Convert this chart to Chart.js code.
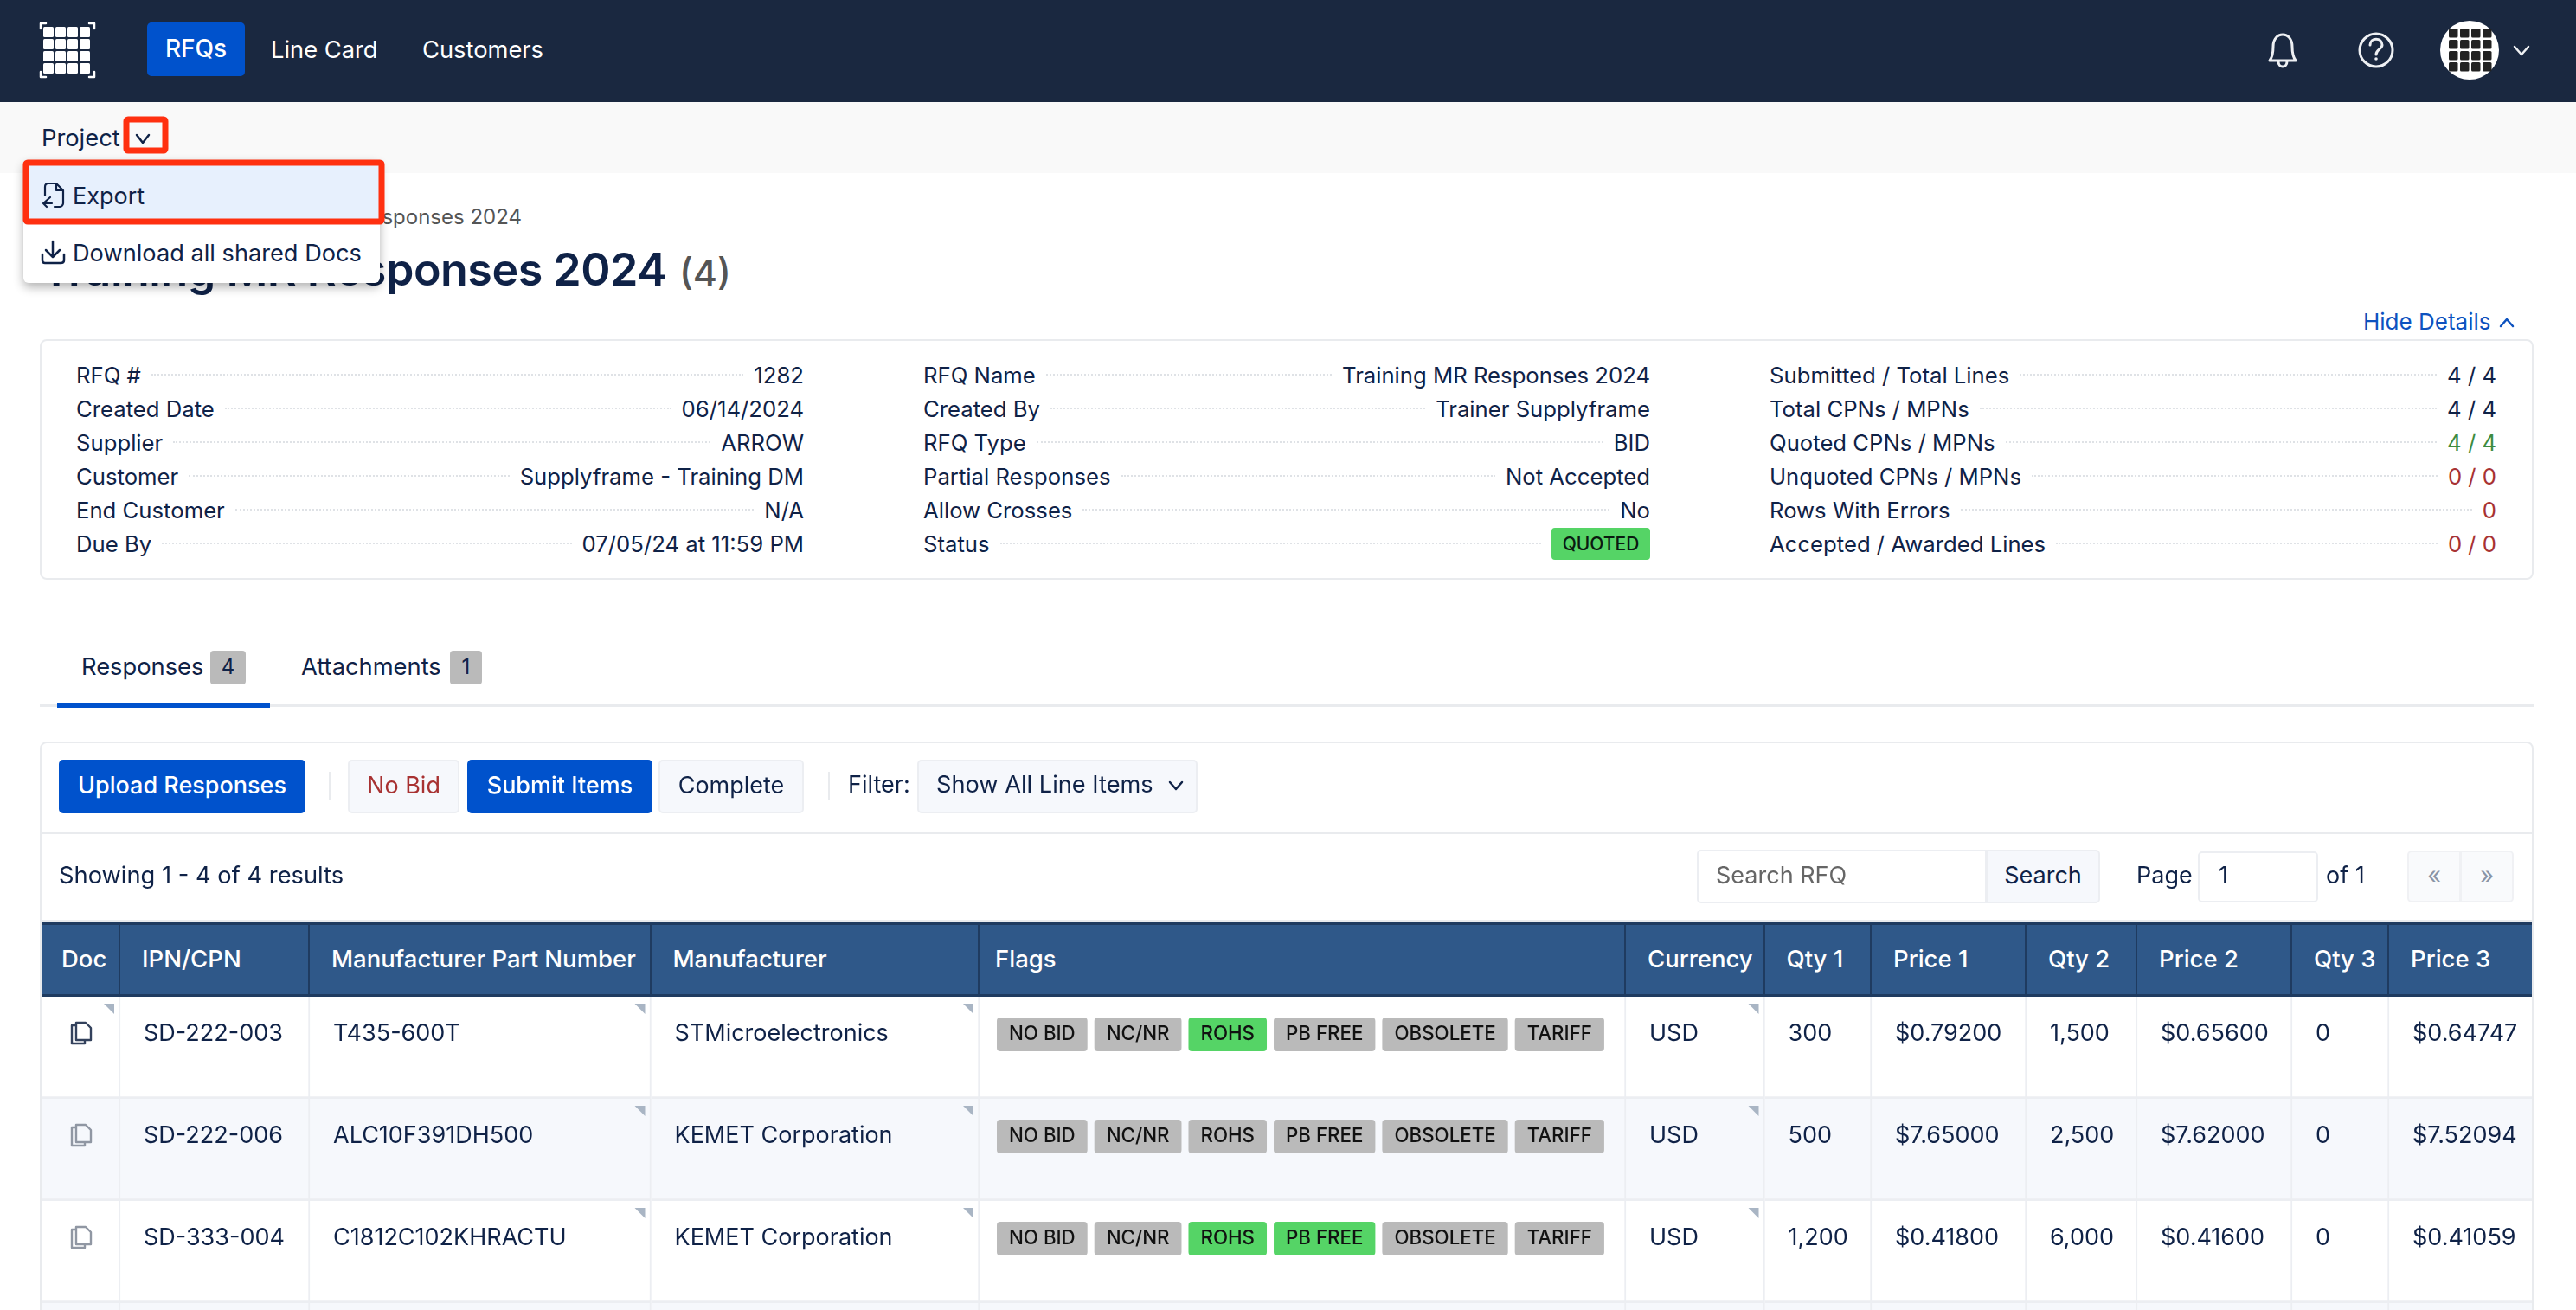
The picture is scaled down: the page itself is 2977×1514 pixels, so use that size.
<!DOCTYPE html>
<html>
<head>
<meta charset="utf-8">
<title>Training MR Responses 2024</title>
<script src="https://cdn.jsdelivr.net/npm/chart.js@4/dist/chart.umd.js"></script>
<style>
  html, body { margin: 0; width: 2977px; height: 1514px; overflow: hidden; background: #fff; }
  body { position: relative; font-family: Inter, "Noto Sans", sans-serif; color: #0f2247; font-size: 26px; }
  .t { position: absolute; line-height: 1; white-space: nowrap; transform: translateY(calc(-50% - 1.5px)); }
  .b { position: absolute; box-sizing: border-box; display: flex; align-items: center; justify-content: center; white-space: nowrap; border-radius: 5px; padding-bottom: 3px; }
  .row { position: absolute; display: flex; align-items: center; height: 30px; white-space: nowrap; transform: translateY(-50%); font-size: 25.7px; }
  .row i { flex: 1; border-top: 2px dotted #dfe2e6; margin: 0 12px; }
  #head { position: absolute; left: 48px; top: 1066px; width: 2878px; height: 86px; box-sizing: border-box; display: flex; background: #2f5889; border-top: 3px solid #1f3b60; border-bottom: 3px solid #1f3b60; color: #fff; font-weight: 500; font-size: 27.5px; }
  #head div { box-sizing: border-box; display: flex; align-items: center; padding-left: 25px; padding-bottom: 3px; border-right: 2px solid #1f3b60; white-space: nowrap; }
  #head div:last-child { border-right: 0; }
  #table { position: absolute; left: 48px; top: 1152px; }
  svg { position: absolute; left: 0; top: 0; z-index: 10; pointer-events: none; }
</style>
</head>
<body>
<canvas id="table" width="2878" height="472"></canvas>
<div id="head"></div>
<svg width="2977" height="1514" fill="none" stroke-linecap="round" stroke-linejoin="round">
  <!-- logo -->
  <g fill="#fff" id="logo"></g>
  <path d="M53 27H47V33M103 27H109V33M53 89H47V83M103 89H109V83" stroke="#fff" stroke-width="2.5"/>
  <!-- bell -->
  <path d="M2623 70c3-4 4-8 4-16 0-9 5-14 11-14s11 5 11 14c0 8 1 12 4 16zM2633 71c0 8 10 8 10 0" stroke="#eef0f3" stroke-width="3"/>
  <!-- help -->
  <circle cx="2746" cy="58" r="19" stroke="#eef0f3" stroke-width="3"/>
  <path d="M2739 52c0-9 14-9 14 0 0 5-7 5-7 11" stroke="#eef0f3" stroke-width="3"/>
  <circle cx="2746" cy="68" r="1.8" fill="#eef0f3"/>
  <!-- avatar -->
  <ellipse cx="2854" cy="58" rx="34" ry="34" fill="#fff"/>
  <g fill="#222" id="avatar"></g>
  <path d="M2906 54L2914 63L2922 54" stroke="#eef0f3" stroke-width="2.5"/>
  <!-- project chevron -->
  <path d="M158 156L165 165L172 156" stroke="#0f2247" stroke-width="2.5"/>
  <!-- red highlights -->
  <rect x="146" y="138" width="45" height="36" rx="2" stroke="#ff3010" stroke-width="7"/>
  <rect x="30" y="188" width="411" height="68" rx="2" stroke="#ff3010" stroke-width="7"/>
  <!-- export icon -->
  <path d="M52 226V216C52 213 54 212 56 212H65L73 220V235C73 237 71 239 69 239H63M65 212V220H73M58 228L50 235H60M50 235L54 239" stroke="#0f2247" stroke-width="2.2"/>
  <!-- download icon -->
  <path d="M61 279V296M53 289L61 297L69 289M49 294V301C49 303 50 304 52 304H70C72 304 74 303 74 301V294" stroke="#0f2247" stroke-width="2.5"/>
  <!-- hide details chevron -->
  <path d="M2890 377L2897 369L2904 377" stroke="#0d52bf" stroke-width="2.5"/>
  <!-- select chevron -->
  <path d="M1352 904L1359 912L1366 904" stroke="#0f2247" stroke-width="2.5"/>
</svg>
<script>
const navItems = ['RFQs', 'Line Card', 'Customers'];
const detailLabelsA = ['RFQ #', 'Created Date', 'Supplier', 'Customer', 'End Customer', 'Due By'];
const detailValuesA = ['1282', '06/14/2024', 'ARROW', 'Supplyframe - Training DM', 'N/A', '07/05/24 at 11:59 PM'];
const detailLabelsB = ['RFQ Name', 'Created By', 'RFQ Type', 'Partial Responses', 'Allow Crosses', 'Status'];
const detailValuesB = ['Training MR Responses 2024', 'Trainer Supplyframe', 'BID', 'Not Accepted', 'No', 'QUOTED'];
const detailLabelsC = ['Submitted / Total Lines', 'Total CPNs / MPNs', 'Quoted CPNs / MPNs', 'Unquoted CPNs / MPNs', 'Rows With Errors', 'Accepted / Awarded Lines'];
const detailValuesC = ['4 / 4', '4 / 4', '4 / 4', '0 / 0', '0', '0 / 0'];

const columns = ['Doc', 'IPN/CPN', 'Manufacturer Part Number', 'Manufacturer', 'Flags', 'Currency', 'Qty 1', 'Price 1', 'Qty 2', 'Price 2', 'Qty 3', 'Price 3'];
const ipnCpn = ['SD-222-003', 'SD-222-006', 'SD-333-004', ''];
const partNumbers = ['T435-600T', 'ALC10F391DH500', 'C1812C102KHRACTU', ''];
const manufacturers = ['STMicroelectronics', 'KEMET Corporation', 'KEMET Corporation', ''];
const flagNames = ['NO BID', 'NC/NR', 'ROHS', 'PB FREE', 'OBSOLETE', 'TARIFF'];
const flagsOn = [['ROHS'], [], ['ROHS', 'PB FREE'], []];
const currencies = ['USD', 'USD', 'USD', ''];
const qty1 = ['300', '500', '1,200', ''];
const price1 = ['$0.79200', '$7.65000', '$0.41800', ''];
const qty2 = ['1,500', '2,500', '6,000', ''];
const price2 = ['$0.65600', '$7.62000', '$0.41600', ''];
const qty3 = ['0', '0', '0', ''];
const price3 = ['$0.64747', '$7.52094', '$0.41059', ''];

// table layout, not data: the stacked bars below are the table cells
const columnWidths = [91, 219, 394.5, 379.5, 747, 160.5, 123.5, 179, 128, 179, 112, 165];
const cellText = [null, ipnCpn, partNumbers, manufacturers, null, currencies, qty1, price1, qty2, price2, qty3, price3];
const cornerMarks = [[0], [], [0, 1, 2, 3], [0, 1, 2, 3], [], [0, 1, 2, 3], [], [], [], [], [], []];

const NAVY = '#0f2247';
const BLUE = '#0052cc';
const GREEN = '#55d466';
const GREY = '#bababa';
const RED = '#a83232';

const text = (str, x, cy, style = {}) => {
  const el = document.createElement('div');
  el.className = 't';
  el.textContent = str;
  el.style.top = cy + 'px';
  if (style.right) {
    el.style.right = (2977 - x) + 'px';
  } else {
    el.style.left = x + 'px';
  }
  Object.assign(el.style, style.css || {});
  document.body.appendChild(el);
  return el;
};

const box = (x0, y0, x1, y1, css = {}, label = '') => {
  const el = document.createElement('div');
  el.className = 'b';
  el.textContent = label;
  el.style.left = x0 + 'px';
  el.style.top = y0 + 'px';
  el.style.width = (x1 - x0) + 'px';
  el.style.height = (y1 - y0) + 'px';
  Object.assign(el.style, css);
  document.body.appendChild(el);
  return el;
};

const renderChrome = () => {
  box(0, 0, 2977, 118, { background: '#1a2840', borderRadius: 0 });
  box(0, 118, 2977, 200, { background: '#f9f9f9', borderRadius: 0 });
  box(170, 26, 283, 88, { background: BLUE, color: '#fff', fontSize: '28px', fontWeight: 500 }, navItems[0]);
  text(navItems[1], 313, 59, { css: { color: '#fff', fontSize: '27.3px' } });
  text(navItems[2], 488, 59, { css: { color: '#fff', fontSize: '27.3px' } });
  text('Project', 48, 161, { css: { fontSize: '27.3px' } });

  // heading sits behind the dropdown
  text('Training MR Responses 2024', 603, 252, { right: true, css: { fontSize: '24px', color: '#555' } });
  text('Training MR Responses 2024', 48, 313, { css: { fontSize: '52px', fontWeight: 600, letterSpacing: '-0.5px' } });
  text('(4)', 785, 317, { css: { fontSize: '43px', fontWeight: 500, color: '#555' } });

  box(27, 185, 439, 327, { background: '#fff', boxShadow: '0 5px 12px rgba(0,0,0,.3)', borderRadius: '6px' });
  box(27, 185, 444, 259, { background: '#e7f0fd', borderRadius: '2px' });
  text('Export', 84, 228, { css: { fontSize: '27px' } });
  text('Download all shared Docs', 84, 294, { css: { fontSize: '27.2px' } });

  text('Hide Details', 2731, 373, { css: { fontSize: '26px', color: '#0d52bf' } });
};

const renderDetails = () => {
  box(46, 392, 2928, 670, { border: '2px solid #e9ebee', borderRadius: '8px' });
  const groups = [
    [detailLabelsA, detailValuesA, 88, 929],
    [detailLabelsB, detailValuesB, 1067, 1907],
    [detailLabelsC, detailValuesC, 2045, 2885]
  ];
  groups.forEach(([labels, values, x0, x1]) => {
    labels.forEach((label, i) => {
      const row = document.createElement('div');
      row.className = 'row';
      row.style.left = x0 + 'px';
      row.style.width = (x1 - x0) + 'px';
      row.style.top = (433 + i * 39) + 'px';
      const a = document.createElement('span');
      a.textContent = label;
      const leader = document.createElement('i');
      const b = document.createElement('span');
      b.textContent = values[i];
      if (label === 'Quoted CPNs / MPNs') b.style.color = '#3d8b40';
      if (['Unquoted CPNs / MPNs', 'Rows With Errors', 'Accepted / Awarded Lines'].includes(label)) b.style.color = RED;
      if (label === 'Status') {
        Object.assign(b.style, { background: GREEN, color: '#0b1a10', fontSize: '21px', fontWeight: 500, width: '114px', height: '37px', lineHeight: '38px', textAlign: 'center', borderRadius: '4px' });
      }
      row.append(a, leader, b);
      document.body.appendChild(row);
    });
  });
};

const renderTabs = () => {
  text('Responses', 94, 772, { css: { fontSize: '27.3px' } });
  box(243, 752, 284, 791, { background: GREY, borderRadius: '4px', fontSize: '24px' }, '4');
  text('Attachments', 348, 772, { css: { fontSize: '27.3px' } });
  box(520, 752, 557, 791, { background: GREY, borderRadius: '4px', fontSize: '24px' }, '1');
  box(46, 814, 2928, 816, { background: '#e9ebee', borderRadius: 0 });
  box(66, 812, 312, 818, { background: BLUE, borderRadius: 0 });
};

const renderToolbar = () => {
  box(46, 857, 2928, 1600, { border: '2px solid #e9ebee', borderRadius: '8px 8px 0 0' });
  box(46, 961, 2928, 963, { background: '#e9ebee', borderRadius: 0 });
  box(46, 1063, 2928, 1066, { background: '#e9ebee', borderRadius: 0 });
  const light = { background: '#f6f8fc', border: '2px solid #eceef2' };
  box(68, 878, 353, 940, { background: BLUE, color: '#fff', fontSize: '27px', fontWeight: 500 }, 'Upload Responses');
  box(380, 892, 382, 925, { background: '#e9ebee', borderRadius: 0 });
  box(402, 878, 531, 940, { ...light, color: RED, fontSize: '27px' }, 'No Bid');
  box(540, 878, 754, 940, { background: BLUE, color: '#fff', fontSize: '27px', fontWeight: 500 }, 'Submit Items');
  box(761, 878, 929, 940, { ...light, fontSize: '27px' }, 'Complete');
  box(957, 892, 959, 925, { background: '#e9ebee', borderRadius: 0 });
  text('Filter:', 980, 908, { css: { fontSize: '27px' } });
  box(1060, 878, 1384, 940, light);
  text('Show All Line Items', 1082, 908, { css: { fontSize: '27.2px' } });
  text('Showing 1 - 4 of 4 results', 68, 1013, { css: { fontSize: '27.3px' } });

  box(1961, 982, 2296, 1044, { border: '2px solid #eceef2', borderRadius: '5px 0 0 5px' });
  text('Search RFQ', 1983, 1013, { css: { fontSize: '27px', color: '#666' } });
  box(2295, 982, 2427, 1044, { ...light, borderRadius: '0 5px 5px 0', fontSize: '27px' }, 'Search');
  text('Page', 2469, 1013, { css: { fontSize: '27px' } });
  box(2540, 984, 2679, 1043, { border: '2px solid #eceef2' });
  text('1', 2564, 1013, { css: { fontSize: '27px' } });
  text('of 1', 2688, 1013, { css: { fontSize: '27px' } });
  box(2782, 983, 2844, 1043, { background: '#f9fafc', border: '2px solid #f0f1f4', color: '#8a94a6', fontSize: '27px', borderRadius: '5px 0 0 5px' }, '«');
  box(2843, 983, 2905, 1043, { background: '#f9fafc', border: '2px solid #f0f1f4', color: '#8a94a6', fontSize: '27px', borderRadius: '0 5px 5px 0' }, '»');
};

const renderHeader = () => {
  const head = document.getElementById('head');
  columns.forEach((name, i) => {
    const cell = document.createElement('div');
    cell.textContent = name;
    cell.style.width = columnWidths[i] + 'px';
    if (name === 'Flags') cell.style.paddingLeft = '18px';
    if (name === 'Doc') cell.style.paddingLeft = '23px';
    head.appendChild(cell);
  });
};

const drawDocIcon = (ctx, x, y, color) => {
  ctx.save();
  ctx.translate(x, y);
  ctx.strokeStyle = color;
  ctx.lineWidth = 2.4;
  ctx.lineJoin = 'round';
  ctx.stroke(new Path2D('M7 4H2V25H17V21'));
  ctx.stroke(new Path2D('M7 1H18L24 7V21H7Z'));
  ctx.restore();
};

const drawFlags = (ctx, x, top, on) => {
  ctx.font = '500 22.3px Inter';
  ctx.textAlign = 'left';
  ctx.textBaseline = 'middle';
  let px = x + 20;
  flagNames.forEach((name) => {
    const w = ctx.measureText(name).width + 28;
    ctx.fillStyle = on.includes(name) ? GREEN : GREY;
    ctx.beginPath();
    ctx.roundRect(px, top + 24, w, 39, 4);
    ctx.fill();
    ctx.fillStyle = '#111';
    ctx.fillText(name, px + 14, top + 43.5);
    px += w + 8;
  });
};

// draws cell contents on top of the stacked bars
const cellContents = {
  id: 'cellContents',
  afterDatasetsDraw(chart) {
    const { ctx } = chart;
    columns.forEach((name, c) => {
      chart.getDatasetMeta(c).data.forEach((bar, r) => {
        const left = bar.base;
        const right = bar.x;
        const top = bar.y - bar.height / 2;
        if (ipnCpn[r]) {
          if (cellText[c]) {
            ctx.font = '27px Inter';
            ctx.fillStyle = NAVY;
            ctx.textAlign = 'left';
            ctx.textBaseline = 'middle';
            ctx.fillText(cellText[c][r], left + 27, top + 43);
          }
          if (name === 'Doc') drawDocIcon(ctx, left + 33, top + 29, r === 0 ? '#33415c' : '#9097a3');
          if (name === 'Flags') drawFlags(ctx, left, top, flagsOn[r]);
        }
        if (cornerMarks[c].includes(r)) {
          ctx.fillStyle = '#a9b5c4';
          ctx.beginPath();
          ctx.moveTo(right - 19, top + 8);
          ctx.lineTo(right - 7, top + 8);
          ctx.lineTo(right - 7, top + 20);
          ctx.closePath();
          ctx.fill();
        }
      });
    });
  }
};

const renderTable = () => {
  new Chart(document.getElementById('table'), {
    type: 'bar',
    data: {
      labels: ipnCpn,
      datasets: columns.map((name, c) => ({
        label: name,
        data: ipnCpn.map(() => columnWidths[c]),
        backgroundColor: ipnCpn.map((_, r) => (r % 2 ? '#f6f8fc' : '#ffffff')),
        borderColor: '#eceef2',
        borderWidth: { top: 0, left: 0, right: c === columns.length - 1 ? 0 : 2, bottom: 3 },
        borderSkipped: false,
        barPercentage: 1,
        categoryPercentage: 1
      }))
    },
    options: {
      indexAxis: 'y',
      responsive: false,
      animation: false,
      devicePixelRatio: 1,
      layout: { padding: 0 },
      plugins: { legend: { display: false }, tooltip: { enabled: false } },
      scales: {
        x: { stacked: true, display: false, min: 0, max: columnWidths.reduce((a, b) => a + b, 0) },
        y: { stacked: true, display: false }
      }
    },
    plugins: [cellContents]
  });
};

const renderIcons = () => {
  const cells = (id, x0, y0, size, gap) => {
    const group = document.getElementById(id);
    let out = '';
    for (let r = 0; r < 4; r++) {
      for (let c = 0; c < 4; c++) {
        out += `<rect x="${x0 + c * (size + gap)}" y="${y0 + r * (size + gap)}" width="${size}" height="${size}" rx="1.5"/>`;
      }
    }
    group.innerHTML = out;
  };
  cells('logo', 50, 31, 12, 2);
  cells('avatar', 2830, 33, 10.5, 2.5);
};

renderChrome();
renderDetails();
renderTabs();
renderToolbar();
renderHeader();
renderIcons();
renderTable();
</script>
</body>
</html>
